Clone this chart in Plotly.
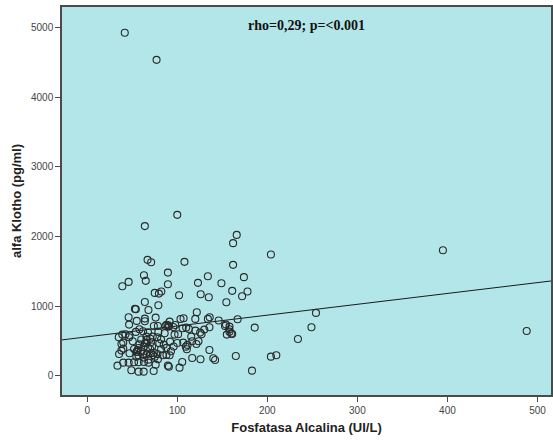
import plotly.graph_objects as go

# Alkaline phosphatase (UI/L) and alpha-Klotho (pg/ml) per patient
fosfatasa = [
    41.7, 77, 100, 64, 166, 162, 204, 395, 67, 71, 108, 162, 63, 65, 89.6, 89.6,
    46, 39, 123, 134, 149, 174, 75, 79.6, 82.3, 102, 126, 135, 161, 178, 172, 154.5,
    64, 79, 53, 54, 68, 121.7, 254, 46, 46.5, 55, 64, 64, 76, 103.6, 107, 120,
    136, 134, 146, 167, 154, 153, 158, 186, 155, 161, 158, 157.9, 160, 249, 234, 204,
    210, 488, 39, 42.5, 35, 46.5, 47, 38, 40, 50.5, 54, 58, 62, 67.5, 74, 78.5,
    86.7, 90, 95.6, 97, 101, 86, 79, 65.7, 72.7, 77.8, 80, 85, 71, 65.7, 62.7, 67.5,
    57, 52, 40, 35.4, 38, 47, 55, 54.6, 62, 66, 73, 78, 84, 88, 91.5, 40,
    46, 52, 57, 33.6, 63, 68, 76, 78.5, 89.6, 102.5, 105.5, 49, 57, 62.7, 73.8, 116.6,
    125.8, 135.7, 140, 142, 106.6, 111.4, 116.6, 121.3, 123.6, 109.5, 110.6, 130, 135.7, 125.4, 120.2, 112.8,
    106, 109.9, 115.5, 126.9, 91.5, 97.8, 165, 183, 90.7, 88, 90, 56, 55, 64, 66, 71,
    75, 60, 63, 68, 70, 72, 58, 82, 88, 93, 96, 70, 60, 82, 92, 100, 57, 74, 91,
]
klotho = [
    4930, 4540, 2312, 2150, 2024, 1905, 1741, 1804, 1665, 1631, 1636, 1593, 1444, 1363, 1482, 1315,
    1348, 1286, 1334, 1430, 1329, 1416, 1190, 1180, 1209, 1157, 1171, 1128, 1219, 1209, 1142, 1056,
    1060, 1013, 960, 955, 945, 912, 902, 840, 734, 787, 820, 783, 835, 815, 826, 816,
    840, 816, 792, 811, 734, 715, 705, 691, 590, 600, 633, 668, 605, 696, 528, 273,
    293, 643, 590, 596, 552, 552, 577, 456, 475, 495, 629, 668, 639, 624, 715, 715,
    715, 725, 700, 590, 596, 610, 629, 561, 561, 552, 466, 446, 485, 475, 417, 403,
    398, 384, 389, 312, 360, 322, 341, 273, 312, 307, 298, 312, 293, 298, 293, 187,
    187, 193, 193, 144, 197, 187, 158, 236, 144, 115, 197, 78, 58, 58, 68, 255,
    236, 370, 250, 226, 475, 442, 495, 456, 495, 417, 380, 662, 696, 619, 648, 672,
    682, 691, 561, 595, 777, 729, 283, 72, 129, 730, 705, 370, 345, 466, 514, 322,
    273, 350, 260, 230, 380, 420, 450, 380, 400, 350, 420, 530, 520, 520, 490, 470, 290, 330, 710,
]

# Linear fit line
fit_intercept = 558
fit_slope = 1.56

x_range = [-28, 515]
y_range = [-278, 5300]

x_ticks = [0, 100, 200, 300, 400, 500]
y_ticks = [0, 1000, 2000, 3000, 4000, 5000]

axis_color = "#4a4a4a"
text_color = "#444444"

fig = go.Figure()

fig.add_trace(go.Scatter(
    x=x_range,
    y=[fit_intercept + fit_slope * v for v in x_range],
    mode="lines",
    line=dict(color="#1a1a1a", width=1),
    hoverinfo="skip",
    showlegend=False,
))

fig.add_trace(go.Scatter(
    x=fosfatasa,
    y=klotho,
    mode="markers",
    marker=dict(symbol="circle-open", size=7, color="#2a2a2a",
                line=dict(width=1.1, color="#2a2a2a")),
    showlegend=False,
))

fig.add_annotation(
    x=0.5, y=0.952, xref="paper", yref="paper",
    text="<b>rho=0,29; p=&lt;0.001</b>",
    showarrow=False,
    font=dict(family="Liberation Serif, Times New Roman, serif", size=14, color="#111111"),
    xanchor="center", yanchor="middle",
)

fig.update_layout(
    width=553, height=441,
    margin=dict(l=62, r=0, t=7, b=46),
    paper_bgcolor="white",
    plot_bgcolor="#b3e6e8",
    font=dict(family="Liberation Sans, Arial, sans-serif", size=10, color=text_color),
)

fig.update_xaxes(
    range=x_range,
    tickvals=x_ticks,
    ticks="outside", ticklen=5, tickcolor=axis_color, tickwidth=1,
    showline=True, linecolor=axis_color, linewidth=1.5, mirror=True,
    showgrid=False, zeroline=False,
    tickfont=dict(size=10, color=text_color),
    title=dict(text="<b>Fosfatasa Alcalina (UI/L)</b>",
               font=dict(size=13, color="#222222"), standoff=8),
)

fig.update_yaxes(
    range=y_range,
    tickvals=y_ticks,
    ticks="outside", ticklen=5, tickcolor=axis_color, tickwidth=1,
    showline=True, linecolor=axis_color, linewidth=1.5, mirror=True,
    showgrid=False, zeroline=False,
    tickfont=dict(size=10, color=text_color),
    title=dict(text="<b>alfa Klotho (pg/ml)</b>",
               font=dict(size=13, color="#222222"), standoff=6),
)

fig.write_html("out.html")
